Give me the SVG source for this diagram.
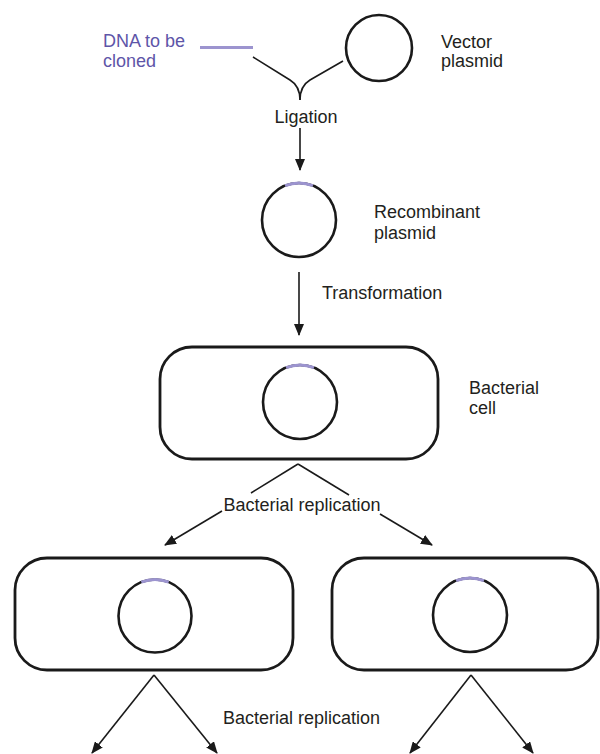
<svg xmlns="http://www.w3.org/2000/svg" width="600" height="754" viewBox="0 0 600 754">
<defs>
<style>
.t{font-family:"Liberation Sans",Arial,sans-serif;font-size:18px;fill:#231f20}
.p{fill:#5e55a8}
.cell{fill:none;stroke:#1a1a1a;stroke-width:2.8}
.pl{fill:none;stroke:#1a1a1a;stroke-width:2.6}
.ins{fill:none;stroke:#9c94cf;stroke-width:3}
.con{fill:none;stroke:#1a1a1a;stroke-width:1.6}
</style>
<marker id="ah" markerUnits="userSpaceOnUse" markerWidth="12" markerHeight="10" viewBox="0 0 12 10" refX="11" refY="5" orient="auto">
<path d="M0,0 L12,5 L0,10 Z" fill="#1a1a1a"/>
</marker>
</defs>
<rect width="600" height="754" fill="#fff"/>

<g id="dna">
<line x1="200" y1="47.5" x2="253" y2="47.5" stroke="#9c94cf" stroke-width="3"/>
<text class="t p" x="103" y="47">DNA to be</text>
<text class="t p" x="103" y="67">cloned</text>
</g>

<g id="vector">
<circle class="pl" cx="379" cy="48" r="33"/>
<text class="t" x="441" y="48">Vector</text>
<text class="t" x="441" y="67">plasmid</text>
</g>

<g id="recombinant">
<circle class="pl" cx="299" cy="220" r="37"/>
<path class="ins" d="M285.1,185.7 A37,37 0 0 1 312.9,185.7"/>
<text class="t" x="374" y="218">Recombinant</text>
<text class="t" x="374" y="239">plasmid</text>
</g>

<g id="cell1">
<rect class="cell" x="160" y="347" width="278" height="112" rx="32"/>
<circle class="pl" cx="300" cy="402" r="37"/>
<path class="ins" d="M286.1,367.7 A37,37 0 0 1 313.9,367.7"/>
<text class="t" x="469" y="394">Bacterial</text>
<text class="t" x="469" y="414">cell</text>
</g>

<g id="cell2">
<rect class="cell" x="15" y="558" width="278" height="112" rx="32"/>
<circle class="pl" cx="155" cy="616" r="36.5"/>
<path class="ins" d="M141.3,582.2 A36.5,36.5 0 0 1 168.7,582.2"/>
</g>

<g id="cell3">
<rect class="cell" x="332" y="558" width="266" height="112" rx="32"/>
<circle class="pl" cx="470" cy="615" r="37"/>
<path class="ins" d="M456.1,580.7 A37,37 0 0 1 483.9,580.7"/>
</g>

<g id="connectors">
<path class="con" d="M253,57 L290,80 Q300,86 300,100"/>
<path class="con" d="M343,61 L310,80 Q300,86 300,100"/>
<text class="t" x="306" y="123" text-anchor="middle">Ligation</text>
<line class="con" x1="300" y1="128" x2="300" y2="170" marker-end="url(#ah)"/>
<line class="con" x1="299" y1="272" x2="299" y2="335" marker-end="url(#ah)"/>
<text class="t" x="322" y="299">Transformation</text>
<line class="con" x1="298" y1="464" x2="251" y2="493"/>
<line class="con" x1="222" y1="511" x2="165" y2="545" marker-end="url(#ah)"/>
<line class="con" x1="298" y1="464" x2="349" y2="495"/>
<line class="con" x1="380" y1="514" x2="432" y2="545" marker-end="url(#ah)"/>
<text class="t" x="302" y="511" text-anchor="middle">Bacterial replication</text>
<line class="con" x1="154" y1="675" x2="92" y2="753" marker-end="url(#ah)"/>
<line class="con" x1="154" y1="675" x2="217" y2="753" marker-end="url(#ah)"/>
<line class="con" x1="471" y1="675" x2="410" y2="753" marker-end="url(#ah)"/>
<line class="con" x1="471" y1="675" x2="533" y2="753" marker-end="url(#ah)"/>
<text class="t" x="223" y="724">Bacterial replication</text>
</g>
</svg>
